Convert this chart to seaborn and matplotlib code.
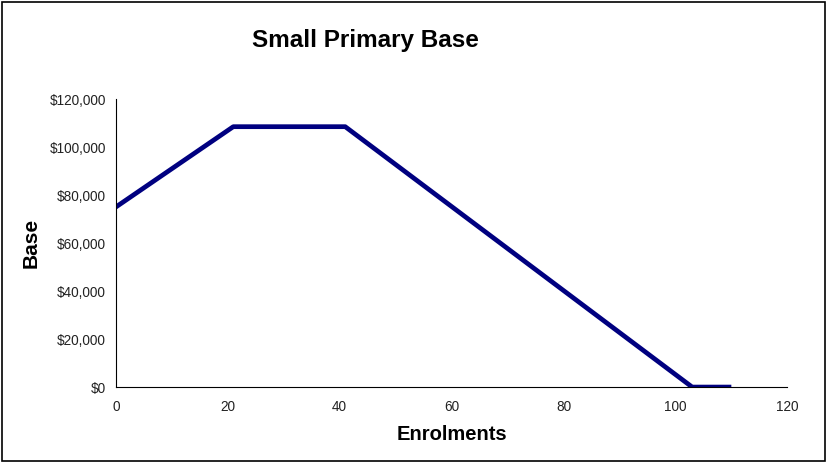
import matplotlib
matplotlib.use("Agg")
import matplotlib.pyplot as plt
import matplotlib.ticker as mticker
from matplotlib.patches import Rectangle
import seaborn as sns
import pandas as pd

enrolments = [0, 21, 41, 103, 110]
base = [75000, 108500, 108500, 0, 0]

sns.set_style("white")
plt.rcParams['font.family'] = ['Liberation Sans', 'DejaVu Sans']

fig = plt.figure(figsize=(8.27, 4.63), dpi=100)
ax = fig.add_axes([0.140, 0.164, 0.812, 0.622])

df = pd.DataFrame({"Enrolments": enrolments, "Base": base})
sns.lineplot(data=df, x="Enrolments", y="Base", ax=ax, color="#000080",
             linewidth=3.4, sort=False, estimator=None, solid_capstyle="butt")

ax.set_xlim(0, 120)
ax.set_ylim(0, 120000)
ax.set_xticks(range(0, 121, 20))
ax.set_yticks(range(0, 120001, 20000))
ax.yaxis.set_major_formatter(mticker.FuncFormatter(lambda v, p: f"${int(v):,}"))
for s in ["top", "right"]:
    ax.spines[s].set_visible(False)
for s in ["left", "bottom"]:
    ax.spines[s].set_color("black")
    ax.spines[s].set_linewidth(0.8)
ax.tick_params(axis="both", direction="out", length=4, width=0.8, color="black",
               labelsize=9.8, labelcolor="#222222", pad=3)
ax.tick_params(axis="x", pad=5)
ax.set_xlabel("Enrolments", fontsize=14.5, fontweight="bold", color="black")
ax.set_ylabel("Base", fontsize=15, fontweight="bold", color="black")
ax.xaxis.set_label_coords(0.5, -0.13)
ax.yaxis.set_label_coords(-0.112, 0.5)

fig.text(0.442, 0.913, "Small Primary Base", fontsize=17.5, fontweight="bold",
         ha="center", va="center", color="black")

fig.patches.append(Rectangle((0.003, 0.005), 0.994, 0.99, transform=fig.transFigure,
                             fill=False, edgecolor="black", linewidth=1.2))

fig.savefig("out.png", dpi=100)
